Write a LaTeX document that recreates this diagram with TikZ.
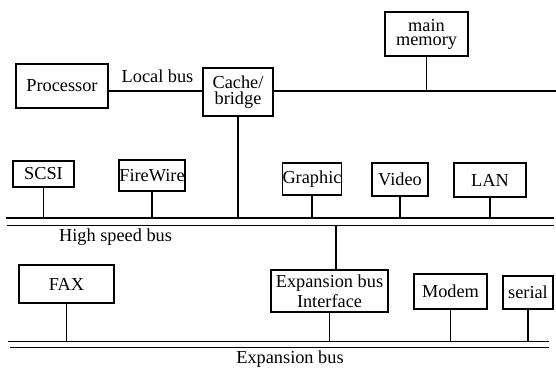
\documentclass[tikz,border=0pt]{standalone}
\usepackage{fontspec}
\setmainfont{Liberation Serif}
\begin{document}
\begin{tikzpicture}[
        x=1pt, y=-1pt,
        box/.style={
            draw,
            line width=1.8pt,
            inner sep=0pt,
            align=center,
            font=\fontsize{18.3}{16}\selectfont
        },
        link/.style={line width=1.5pt},
        bus/.style={line width=1.6pt},
        lbl/.style={anchor=base, inner sep=0pt, font=\fontsize{18.3}{20}\selectfont}
    ]

    \useasboundingbox (0,0) rectangle (556,368);

    \node[box, minimum width=92, minimum height=44] (proc) at (62,86) {Processor};
    \node[box, minimum width=70, minimum height=48] (cache) at (238,92) {Cache/\\bridge};
    \node[box, minimum width=83, minimum height=44, font=\fontsize{18.3}{14}\selectfont] (mem) at (426.5,34) {main\\memory};

    \node[box, minimum width=61, minimum height=26] (scsi) at (43.5,174) {SCSI};
    \node[box, minimum width=66, minimum height=31] (firewire) at (152,175.5) {FireWire};
    \node[box, minimum width=58, minimum height=32] (graphic) at (312,179) {Graphic};
    \node[box, minimum width=56, minimum height=33] (video) at (400,179.5) {Video};
    \node[box, minimum width=72, minimum height=34] (lan) at (490,180) {LAN};

    \node[box, minimum width=95, minimum height=38] (fax) at (66.5,284) {FAX};
    \node[box, minimum width=117, minimum height=42, font=\fontsize{18.3}{20}\selectfont] (ebi) at (329.5,291) {Expansion bus\\Interface};
    \node[box, minimum width=73, minimum height=35] (modem) at (450.5,291.5) {Modem};
    \node[box, minimum width=50, minimum height=33] (serial) at (528,292.5) {serial};

    \node[lbl] (lbus) at (157.5,82) {Local bus};
    \node[lbl] (hslabel) at (115.5,241) {High speed bus};
    \node[lbl] (exlabel) at (290,363.5) {Expansion bus};

    % local and system bus
    \coordinate (sysend) at (556,91);
    \draw[link] (proc.east |- sysend) -- (cache.west |- sysend);
    \draw[bus] (cache.east |- sysend) -- (sysend);
    \draw[link] (mem.south) -- (mem.south |- sysend);

    % high speed bus
    \coordinate (hsa) at (6,218);
    \coordinate (hsb) at (554,218);
    \coordinate (hsc) at (7,225.5);
    \coordinate (hsd) at (554,225.5);
    \draw[bus] (hsa) -- (hsb);
    \draw[bus] (hsc) -- (hsd);

    \draw[link] (cache.south) -- (cache.south |- hsa);
    \draw[link] (scsi.south) -- (scsi.south |- hsa);
    \draw[link] (firewire.south) -- (firewire.south |- hsa);
    \draw[link] (graphic.south) -- (graphic.south |- hsa);
    \draw[link] (video.south) -- (video.south |- hsa);
    \draw[link] (lan.south) -- (lan.south |- hsa);
    \draw[link] ([xshift=6.5]ebi.north) -- ([xshift=6.5]ebi.north |- hsc);

    % expansion bus
    \coordinate (exa) at (8,341.5);
    \coordinate (exb) at (549,341.5);
    \coordinate (exc) at (10,347.5);
    \coordinate (exd) at (549,347.5);
    \draw[bus] (exa) -- (exb);
    \draw[bus] (exc) -- (exd);

    \draw[link] (fax.south) -- (fax.south |- exa);
    \draw[link] (ebi.south) -- (ebi.south |- exa);
    \draw[link] (modem.south) -- (modem.south |- exa);
    \draw[link] (serial.south) -- (serial.south |- exa);

    \end{tikzpicture}
\end{document}
